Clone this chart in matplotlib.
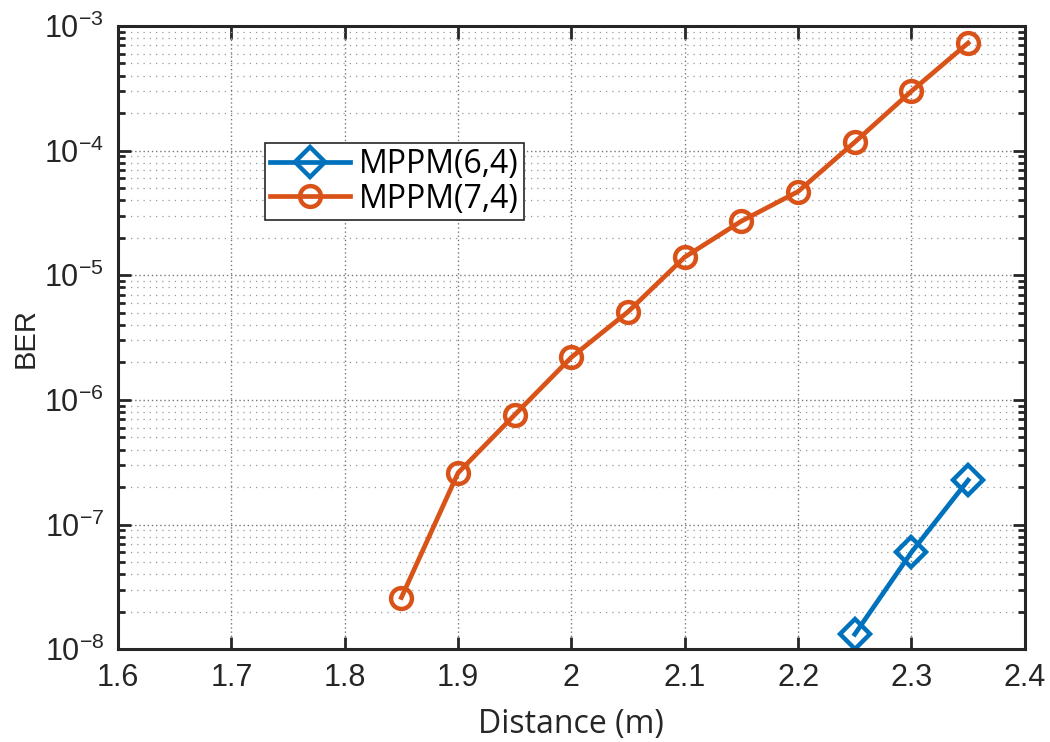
import matplotlib
matplotlib.use("Agg")
from matplotlib import pyplot as plt
from matplotlib.ticker import LogLocator, NullFormatter, FixedLocator

plt.rcParams["font.family"] = ["Liberation Sans", "DejaVu Sans"]
plt.rcParams["mathtext.fontset"] = "custom"
plt.rcParams["mathtext.rm"] = "Liberation Sans"
plt.rcParams["mathtext.it"] = "Liberation Sans"
plt.rcParams["mathtext.default"] = "regular"

# data
dist_64 = [2.25, 2.30, 2.35]
ber_64 = [1.32e-8, 6.0e-8, 2.27e-7]

dist_74 = [1.85, 1.90, 1.95, 2.00, 2.05, 2.10, 2.15, 2.20, 2.25, 2.30, 2.35]
ber_74 = [2.6e-8, 2.6e-7, 7.6e-7, 2.2e-6, 5.1e-6, 1.4e-5, 2.72e-5, 4.7e-5,
          1.17e-4, 3.0e-4, 7.3e-4]

x_ticks = [1.6, 1.7, 1.8, 1.9, 2.0, 2.1, 2.2, 2.3, 2.4]
x_labels = ["1.6", "1.7", "1.8", "1.9", "2", "2.1", "2.2", "2.3", "2.4"]

blue = "#0072BD"
orange = "#D95319"

fig = plt.figure(figsize=(10.5, 7.42), dpi=100)
ax = fig.add_axes([0.1124, 0.125, 0.8636, 0.84])

ax.plot(dist_64, ber_64, color=blue, lw=3.4, marker="D", markersize=15,
        markerfacecolor="none", markeredgewidth=3.2, label="MPPM(6,4)")
ax.plot(dist_74, ber_74, color=orange, lw=3.4, marker="o", markersize=15,
        markerfacecolor="none", markeredgewidth=3.2, label="MPPM(7,4)")

ax.set_yscale("log")
ax.set_xlim(1.6, 2.4)
ax.set_ylim(1e-8, 1e-3)
ax.xaxis.set_major_locator(FixedLocator(x_ticks))
ax.set_xticklabels(x_labels)
ax.yaxis.set_major_locator(LogLocator(base=10, numticks=10))
ax.yaxis.set_minor_locator(LogLocator(base=10, subs=range(2, 10), numticks=20))
ax.yaxis.set_minor_formatter(NullFormatter())

ax.grid(True, which="major", linestyle=(0, (1, 2)), color="#777777", lw=1.0)
ax.grid(True, which="minor", axis="y", linestyle=(0, (1, 4)), color="#999999", lw=0.9)

ax.tick_params(which="both", direction="in", top=True, right=True,
               colors="#262626", width=2)
ax.tick_params(axis="x", labelsize=22)
ax.tick_params(axis="y", labelsize=22)
ax.tick_params(which="major", length=9, pad=10)
ax.tick_params(which="minor", length=5)
for s in ax.spines.values():
    s.set_linewidth(2.2)
    s.set_color("#262626")

ax.set_xlabel("Distance (m)", fontsize=23, family="Open Sans", color="#262626", labelpad=11)
ax.set_ylabel("BER", fontsize=21, color="#262626")
ax.yaxis.set_label_coords(-0.087, 0.5)

leg = ax.legend(loc="upper left", bbox_to_anchor=(0.162, 0.812),
                prop={"family": "Open Sans", "size": 23}, fancybox=False,
                framealpha=1, edgecolor="#262626", handlelength=2.5,
                borderpad=0.15, labelspacing=0.05, handletextpad=0.3,
                borderaxespad=0)
leg.get_frame().set_linewidth(1.2)

fig.savefig("out.png", dpi=100)
